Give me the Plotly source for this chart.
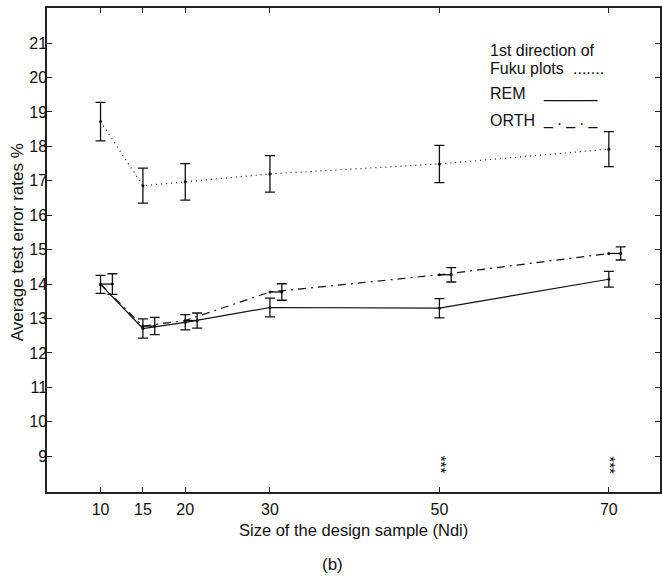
import plotly.graph_objects as go

# ---- data ----
sizes = [10, 15, 20, 30, 50, 70]                      # design sample size (Ndi)
fuku = [18.72, 16.86, 16.97, 17.20, 17.49, 17.92]     # 1st direction of Fuku plots
fuku_err = [0.56, 0.51, 0.53, 0.53, 0.54, 0.51]
rem = [13.99, 12.71, 12.89, 13.32, 13.30, 14.14]      # REM
rem_err = [0.26, 0.28, 0.22, 0.27, 0.28, 0.23]
orth = [14.00, 12.78, 12.94, 13.77, 14.27, 14.89]     # ORTH
orth_err = [0.30, 0.25, 0.22, 0.24, 0.21, 0.19]
orth_bar_x = [11.4, 16.4, 21.4, 31.4, 51.4, 71.4]     # ORTH error bars drawn shifted right
sig_sizes = [50, 70]                                  # sizes marked ***
sig_level = [8.74, 8.74]
x_ticks = [10, 15, 20, 30, 50, 70]
y_ticks = list(range(9, 22))

FONT = "Liberation Sans, Arial, Helvetica, sans-serif"
INK = "#111111"

fig = go.Figure()

# Fuku: dotted line + error bars
fig.add_trace(go.Scatter(
    x=sizes, y=fuku, mode="lines+markers",
    line=dict(color=INK, width=1.2, dash="1px,4px"),
    marker=dict(color=INK, size=3),
    error_y=dict(type="data", array=fuku_err, color=INK, thickness=1.3, width=5),
    showlegend=False))

# REM: solid line + error bars
fig.add_trace(go.Scatter(
    x=sizes, y=rem, mode="lines+markers",
    line=dict(color=INK, width=1.2),
    marker=dict(color=INK, size=3),
    error_y=dict(type="data", array=rem_err, color=INK, thickness=1.3, width=5),
    showlegend=False))

# ORTH: dash-dot line through the points
fig.add_trace(go.Scatter(
    x=sizes, y=orth, mode="lines+markers",
    line=dict(color=INK, width=1.2, dash="8px,5px,2px,5px"),
    marker=dict(color=INK, size=3),
    showlegend=False))

# ORTH: short connectors to the shifted error bars
cx, cy = [], []
for a, b, v in zip(sizes, orth_bar_x, orth):
    cx += [a, b, None]
    cy += [v, v, None]
fig.add_trace(go.Scatter(x=cx, y=cy, mode="lines",
                         line=dict(color=INK, width=1.3), showlegend=False))

# ORTH: error bars
fig.add_trace(go.Scatter(
    x=orth_bar_x, y=orth, mode="markers",
    marker=dict(color=INK, size=3),
    error_y=dict(type="data", array=orth_err, color=INK, thickness=1.3, width=5),
    showlegend=False))

annotations = []
# significance stars
for sx, sy in zip(sig_sizes, sig_level):
    annotations.append(dict(x=sx, y=sy, xref="x", yref="y", text="***",
                            textangle=90, showarrow=False, xshift=2,
                            font=dict(family=FONT, size=15, color="#000000")))

# legend written as text
def ptext(txt, px, py, size=16, anchor="left"):
    return dict(x=(px - 47) / 615, y=(491.7 - py) / 483.7, xref="paper", yref="paper",
                text=txt, showarrow=False, xanchor=anchor, yanchor="middle",
                font=dict(family=FONT, size=size, color=INK))

annotations += [
    ptext("1st direction of", 489, 50),
    ptext("Fuku plots", 489, 68),
    ptext(".......", 573, 68),
    ptext("REM", 489, 93),
    ptext("______", 543, 93),
    ptext("ORTH", 489, 120),
    ptext("_\u00a0.\u00a0_\u00a0.\u00a0_", 543, 120),
]

# axis titles and caption
annotations.append(dict(x=-0.0488, y=0.516, xref="paper", yref="paper",
                        text="Average test error rates %", textangle=-90,
                        showarrow=False, xanchor="center", yanchor="middle",
                        font=dict(family=FONT, size=17, color=INK)))
annotations.append(dict(x=0.5008, y=-0.0792, xref="paper", yref="paper",
                        text="Size of the design sample (Ndi)",
                        showarrow=False, xanchor="center", yanchor="middle",
                        font=dict(family=FONT, size=16.5, color=INK)))
annotations.append(dict(x=0.465, y=(491.7 - 564) / 483.7, xref="paper", yref="paper",
                        text="(b)", showarrow=False, xanchor="center", yanchor="middle",
                        borderpad=0,
                        font=dict(family=FONT, size=17, color=INK)))

axis_common = dict(showgrid=False, zeroline=False, showline=True, linecolor="#222222",
                   linewidth=1.5, ticks="inside", ticklen=5, tickwidth=1,
                   tickcolor="#222222", mirror="ticks",
                   tickfont=dict(family=FONT, size=16, color=INK))

fig.update_layout(
    width=662, height=577,
    margin=dict(l=47, r=0, t=8, b=85.3),
    paper_bgcolor="white", plot_bgcolor="white",
    xaxis=dict(range=[3.68, 76.04], tickvals=x_ticks,
               ticktext=[str(v) for v in x_ticks], ticklabelstandoff=2, **axis_common),
    yaxis=dict(range=[7.96, 22.02], tickvals=y_ticks,
               ticktext=[str(v) for v in y_ticks], ticklabelstandoff=-5, **axis_common),
    annotations=annotations,
    showlegend=False,
)

fig.write_html("out.html")
